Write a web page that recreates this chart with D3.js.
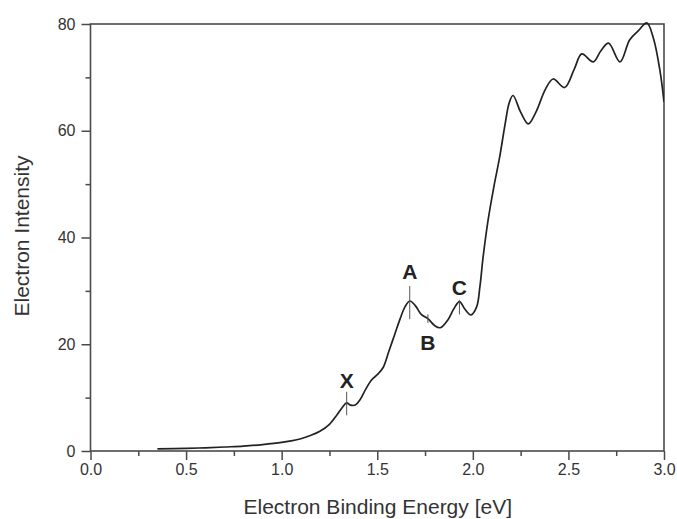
<!DOCTYPE html>
<html>
<head>
<meta charset="utf-8">
<script src="https://cdn.jsdelivr.net/npm/d3@7"></script>
<style>
  html, body { margin: 0; padding: 0; background: #fff; }
  svg { display: block; }
</style>
</head>
<body>
<svg id="chart" width="677" height="519"></svg>
<script>
// ---- data ----
const energy = [0.35,0.5,0.6,0.7,0.8,0.9,1.0,1.05,1.1,1.15,1.2,1.25,1.29,1.32,1.34,1.36,1.385,1.41,1.44,1.47,1.50,1.53,1.56,1.59,1.62,1.645,1.67,1.70,1.73,1.765,1.80,1.83,1.87,1.90,1.93,1.96,1.99,2.02,2.037,2.054,2.08,2.11,2.14,2.17,2.19,2.21,2.25,2.29,2.33,2.38,2.42,2.48,2.53,2.57,2.63,2.67,2.71,2.77,2.82,2.865,2.91,2.945,2.98,3.0];
const intensity = [0.4,0.5,0.6,0.75,0.9,1.2,1.6,1.9,2.3,2.9,3.7,5.0,6.8,8.3,9.0,8.6,8.6,9.6,11.6,13.3,14.3,15.6,18.6,21.7,24.8,27.0,28.1,27.2,25.6,24.8,23.5,23.1,24.6,26.6,28.0,26.5,25.5,27.0,30.8,36.4,43.3,49.5,55,61.5,65.2,66.6,63.5,61.3,63.5,67.8,69.7,68.1,71.5,74.4,72.9,75,76.4,72.9,77.0,78.7,80.2,77.3,71,65.4];
const xTicks = [0.0,0.5,1.0,1.5,2.0,2.5,3.0];
const xTickLabels = ["0.0","0.5","1.0","1.5","2.0","2.5","3.0"];
const yTicks = [0,20,40,60,80];
const yTickLabels = ["0","20","40","60","80"];
const markLabels = ["X","A","B","C"];
const markEnergy = [1.34,1.67,1.765,1.93];
const markTop = [11.1,30.9,25.6,28.3];
const markBottom = [6.7,24.7,24.0,25.6];
const xTitle = "Electron Binding Energy [eV]";
const yTitle = "Electron Intensity";

(function(){
const svg = d3.select("#chart");
const mLeft = 90.5, mRight = 664, mTop = 24, mBottom = 451;
const x = d3.scaleLinear().domain([0,3]).range([mLeft,mRight]);
const y = d3.scaleLinear().domain([0,80]).range([mBottom,mTop]);
const axisColor = "#4a4a4a", textColor = "#333";
const font = "'Liberation Sans', Arial, Helvetica, sans-serif";

svg.append("clipPath").attr("id","clip").append("rect")
  .attr("x",mLeft).attr("y",mTop-2).attr("width",mRight-mLeft).attr("height",mBottom-mTop+2);

const xMinor = d3.range(0.25,3,0.5);
const yMinor = d3.range(10,80,20);

const xAxis = d3.axisBottom(x).tickValues(xTicks).tickFormat((d,i)=>xTickLabels[i]).tickSize(9).tickPadding(4);
const xAxisMinor = d3.axisBottom(x).tickValues(xMinor).tickFormat("").tickSize(5);
const yAxis = d3.axisLeft(y).tickValues(yTicks).tickFormat((d,i)=>yTickLabels[i]).tickSize(9).tickPadding(6);
const yAxisMinor = d3.axisLeft(y).tickValues(yMinor).tickFormat("").tickSize(5);

function style(g){
  g.select(".domain").remove();
  g.selectAll("line").attr("stroke",axisColor).attr("stroke-width",1.5);
  g.selectAll("text").attr("fill",textColor).style("font-family",font).style("font-size","16px");
}
svg.append("g").attr("transform",`translate(0,${mBottom})`).call(xAxis).call(style);
svg.append("g").attr("transform",`translate(0,${mBottom})`).call(xAxisMinor).call(style);
svg.append("g").attr("transform",`translate(${mLeft},0)`).call(yAxis).call(style);
svg.append("g").attr("transform",`translate(${mLeft},0)`).call(yAxisMinor).call(style);

svg.append("rect").attr("x",mLeft).attr("y",mTop).attr("width",mRight-mLeft).attr("height",mBottom-mTop)
  .attr("fill","none").attr("stroke",axisColor).attr("stroke-width",1.6);

const pts = energy.map((e,i)=>[e,intensity[i]]);
const line = d3.line().x(d=>x(d[0])).y(d=>y(d[1])).curve(d3.curveCatmullRom.alpha(0.5));
svg.append("path").datum(pts).attr("clip-path","url(#clip)")
  .attr("d",line).attr("fill","none").attr("stroke","#222").attr("stroke-width",1.7);

const labelOffset = {X:-4, A:-7, C:-5, B:27};
markLabels.forEach((lab,i)=>{
  svg.append("line").attr("x1",x(markEnergy[i])).attr("x2",x(markEnergy[i]))
    .attr("y1",y(markTop[i])).attr("y2",y(markBottom[i]))
    .attr("stroke","#555").attr("stroke-width",1);
  const below = lab === "B";
  svg.append("text").text(lab)
    .attr("x",x(markEnergy[i]))
    .attr("y",(below ? y(markBottom[i]) : y(markTop[i])) + labelOffset[lab])
    .attr("text-anchor","middle")
    .attr("fill","#222").style("font-family",font).style("font-weight","bold").style("font-size","21px");
});

svg.append("text").text(xTitle).attr("x",(mLeft+mRight)/2 + 0.5).attr("y",514)
  .attr("text-anchor","middle").attr("fill",textColor).style("font-family",font).style("font-size","21px");
svg.append("text").text(yTitle).attr("transform","translate(29,236) rotate(-90)")
  .attr("text-anchor","middle").attr("fill",textColor).style("font-family",font).style("font-size","21px");
})();
</script>
</body>
</html>
